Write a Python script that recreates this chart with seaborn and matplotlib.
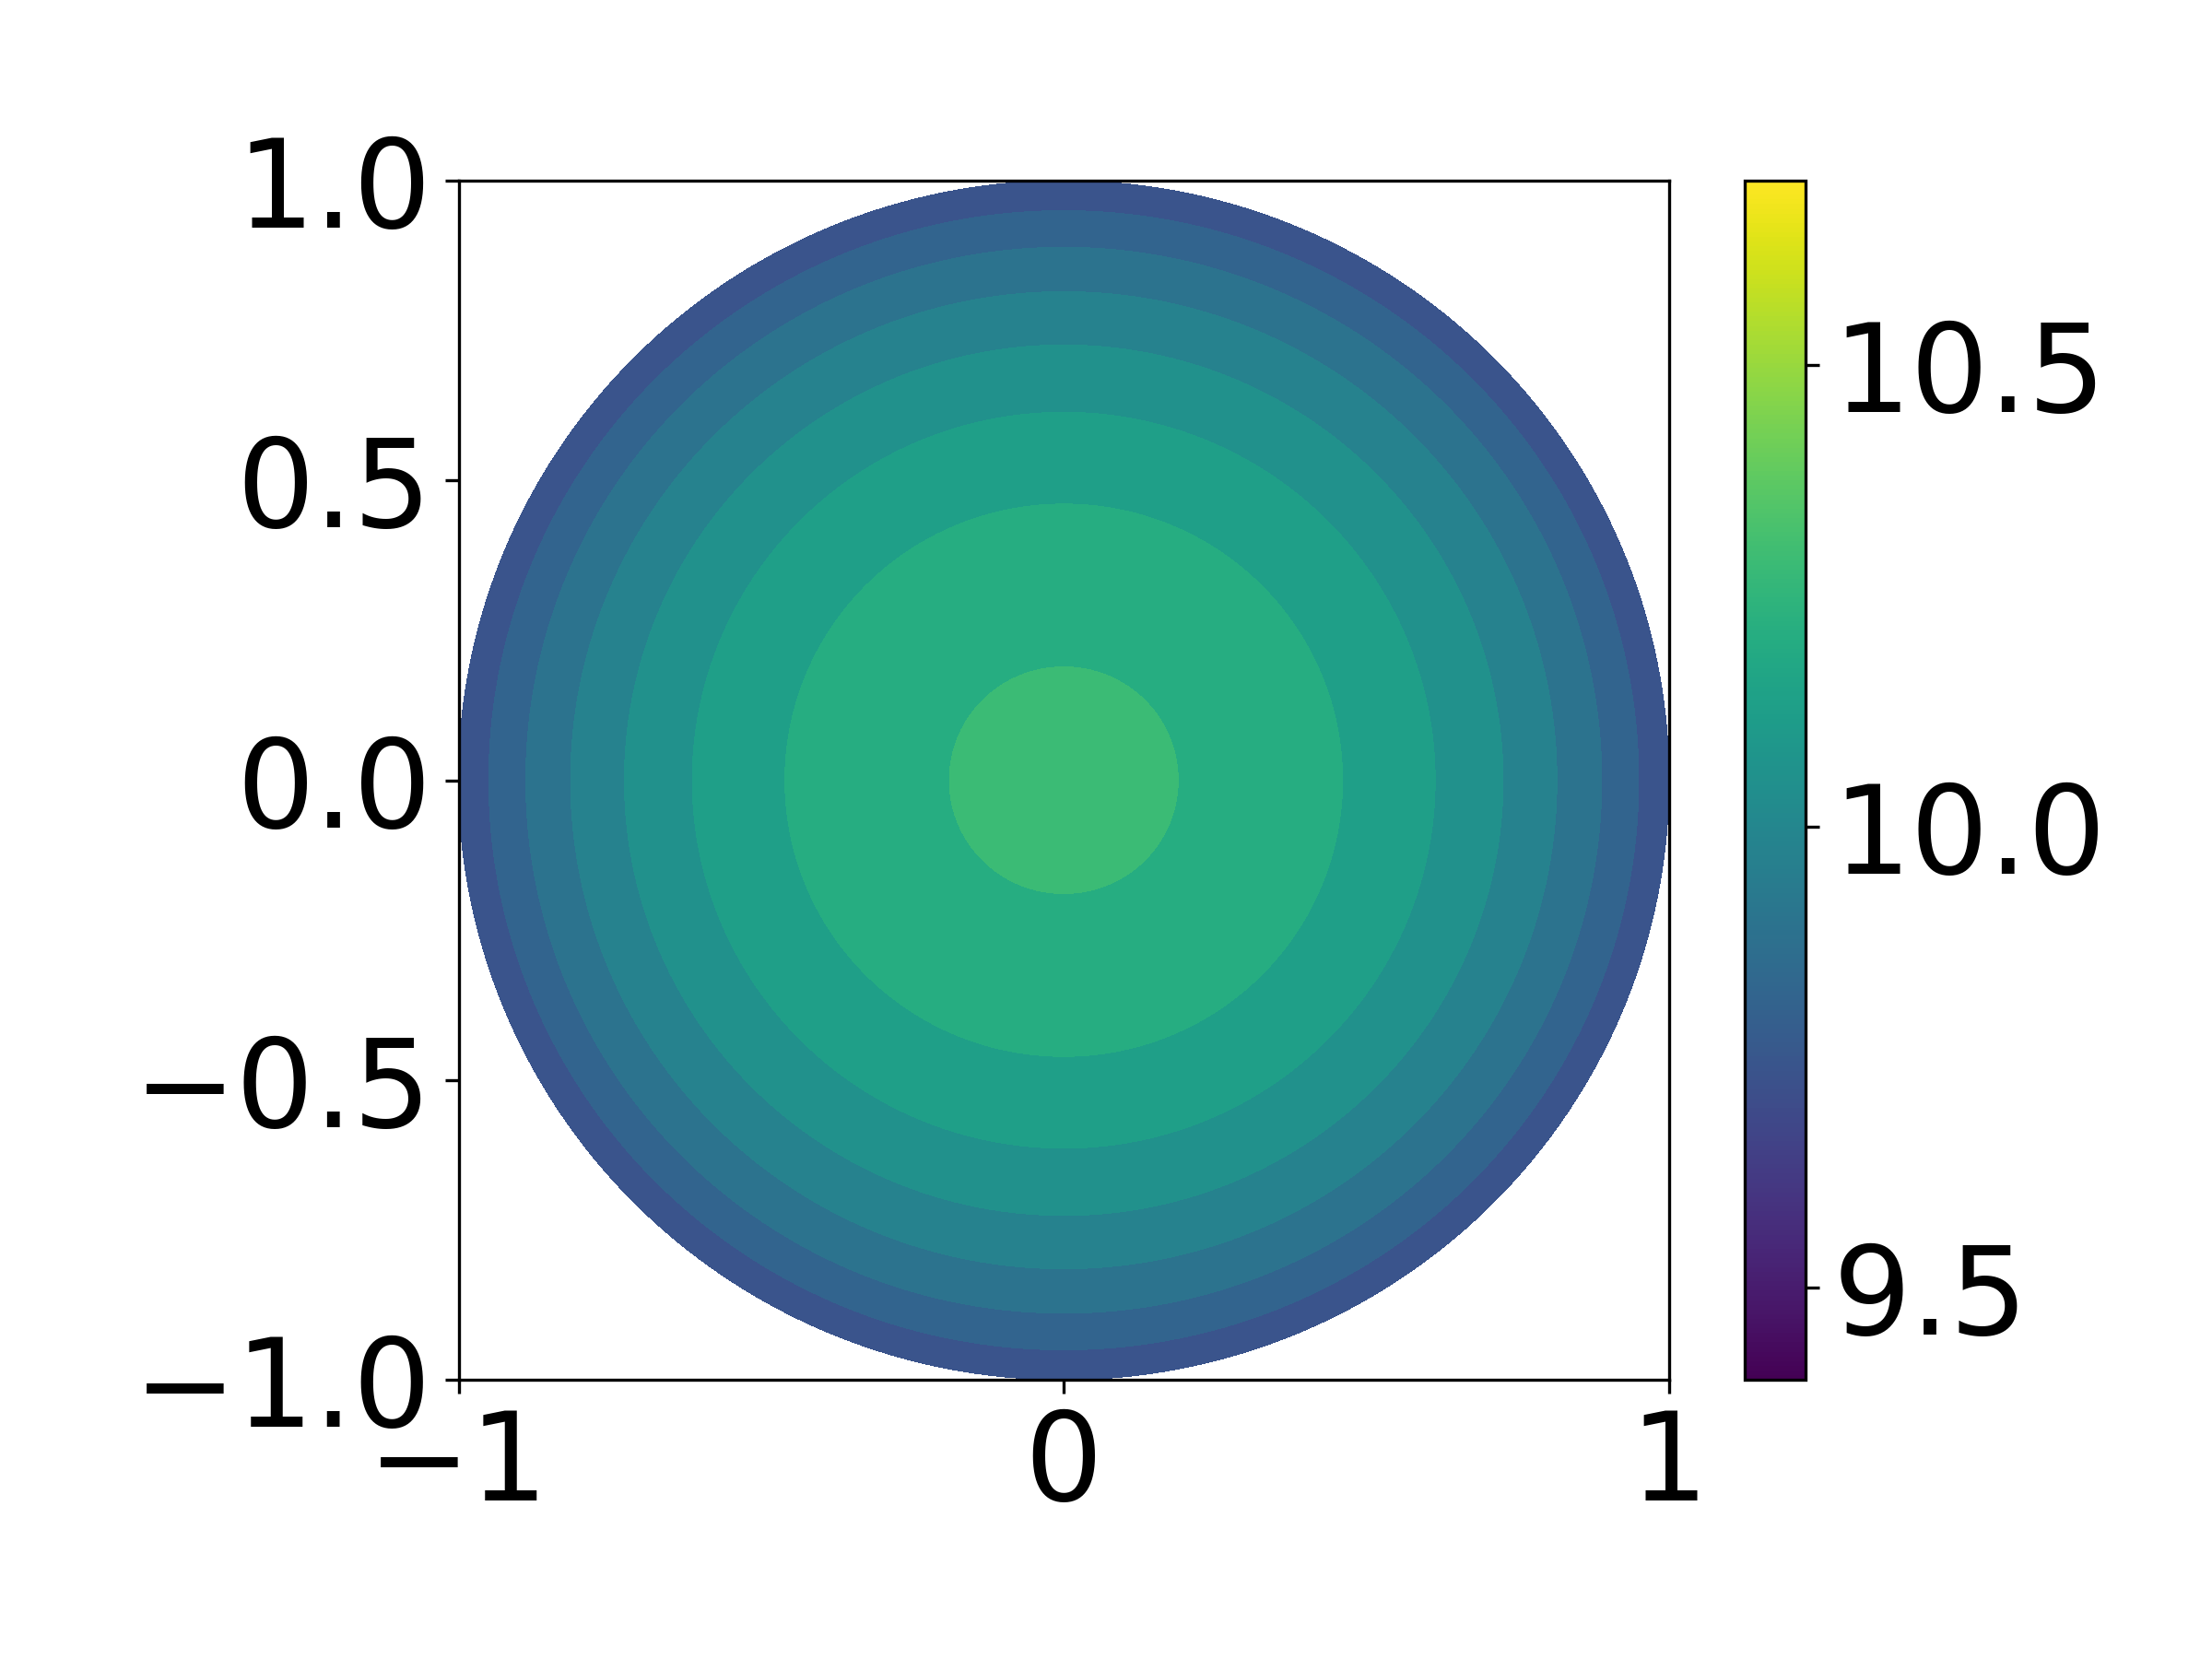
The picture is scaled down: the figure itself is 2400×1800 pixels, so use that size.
import numpy as np
import matplotlib
matplotlib.use("Agg")
import matplotlib.pyplot as plt
import matplotlib.colors as mcolors
import matplotlib.cm as cm
import seaborn as sns

# radial profile (radius -> field value)
radius = [0.0, 0.189, 0.461, 0.614, 0.726, 0.815, 0.889, 0.950, 1.0]
value = [10.30, 10.245, 10.167, 10.089, 10.011, 9.933, 9.855, 9.777, 9.72]

# contour levels and colour range
levels = [9.699, 9.777, 9.855, 9.933, 10.011, 10.089, 10.167, 10.245, 10.323]
vmin, vmax = 9.4, 10.7
cbar_ticks = [9.5, 10.0, 10.5]

cmap = sns.color_palette("viridis", as_cmap=True)
norm = mcolors.Normalize(vmin=vmin, vmax=vmax)

# polar mesh over the unit disk
rr, tt = np.meshgrid(np.linspace(0, 1, 300), np.linspace(0, 2 * np.pi, 721))
X = rr * np.cos(tt)
Y = rr * np.sin(tt)
Z = np.interp(rr, radius, value)

plt.rcParams["font.size"] = 32

fig = plt.figure(figsize=(8, 6), dpi=300)
ax = fig.add_axes([0.2073, 0.1683, 0.5472, 0.7228])
ax.contourf(X, Y, Z, levels=levels, cmap=cmap, norm=norm)
ax.set_xlim(-1, 1)
ax.set_ylim(-1, 1)
ax.set_xticks([-1, 0, 1])
ax.set_yticks([-1.0, -0.5, 0.0, 0.5, 1.0])

cax = fig.add_axes([0.7888, 0.1683, 0.0275, 0.7228])
fig.colorbar(cm.ScalarMappable(norm=norm, cmap=cmap), cax=cax, ticks=cbar_ticks)

fig.savefig("out.png", dpi=300)
